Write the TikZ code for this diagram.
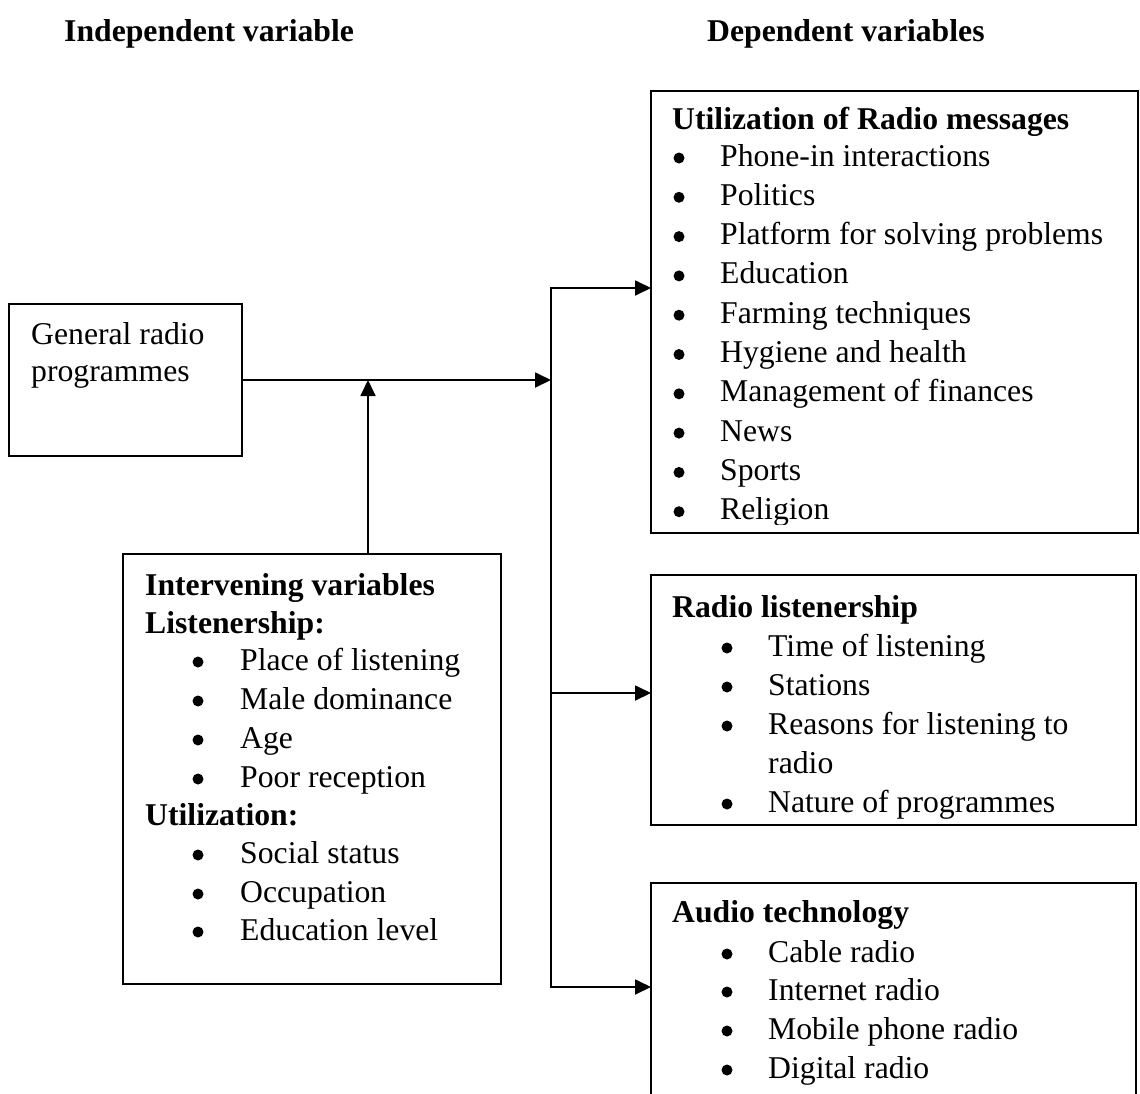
\documentclass[tikz,border=0pt]{standalone}
\usepackage{fontspec}
\setmainfont{Liberation Serif}
\usetikzlibrary{arrows.meta}
\begin{document}
\begin{tikzpicture}[x=1pt,y=-1pt,
  box/.style={draw, line width=1.5pt, anchor=north west, inner sep=0pt, outer sep=0pt},
  txt/.style={anchor=base west, inner sep=0pt, font=\fontsize{31.7}{38}\selectfont},
  btxt/.style={anchor=base west, inner sep=0pt, font=\fontsize{31.7}{38}\selectfont\bfseries},
  conn/.style={line width=1.8pt},
  arr/.style={conn, -{Triangle[length=16pt,width=15pt]}}
]
\clip (0,0) rectangle (1140,1093);
\fill[white] (0,0) rectangle (1140,1093);

% headers
\node[btxt] (hind) at (64,41) {Independent variable};
\node[btxt] (hdep) at (707,41) {Dependent variables};

% boxes
\node[box, minimum width=233pt, minimum height=152pt] (gen) at (9,304) {};
\node[box, minimum width=487pt, minimum height=442pt] (util) at (651,91) {};
\node[box, minimum width=485pt, minimum height=250pt] (listen) at (651,575) {};
\node[box, minimum width=485pt, minimum height=260pt] (audio) at (651,883) {};
\node[box, minimum width=378pt, minimum height=430pt] (interv) at (123,554) {};

% general radio text
\node[txt] (g1) at (31,344) {General radio};
\node[txt] (g2) at (31,381) {programmes};

% utilization box
\node[btxt] (ut) at (672,129) {Utilization of Radio messages};
\begin{scope}
\clip (651,91) rectangle (1138,524);
\foreach \t [count=\i] in {Phone-in interactions, Politics, Platform for solving problems, Education, Farming techniques, Hygiene and health, Management of finances, News, Sports, Religion}{
  \node[txt] (u\i) at (720,{166+39.3*(\i-1)}) {\t};
  \fill (679,{158+39.3*(\i-1)}) circle (5.5pt);
}
\end{scope}

% radio listenership box
\node[btxt] (lt) at (672,617) {Radio listenership};
\node[txt] (l1) at (768,656) {Time of listening};
\node[txt] (l2) at (768,695) {Stations};
\node[txt] (l3) at (768,734) {Reasons for listening to};
\node[txt] (l3b) at (768,773) {radio};
\node[txt] (l4) at (768,812) {Nature of programmes};
\foreach \y in {656,695,734,812}{ \fill (727,\y-8) circle (5.5pt); }

% audio technology box
\node[btxt] (at) at (672,922) {Audio technology};
\node[txt] (a1) at (768,962) {Cable radio};
\node[txt] (a2) at (768,1000) {Internet radio};
\node[txt] (a3) at (768,1039) {Mobile phone radio};
\node[txt] (a4) at (768,1078) {Digital radio};
\foreach \y in {962,1000,1039,1078}{ \fill (727,\y-8) circle (5.5pt); }

% intervening box
\node[btxt] (it) at (145,595) {Intervening variables};
\node[btxt] (il) at (145,633) {Listenership:};
\node[txt] (i1) at (240,670) {Place of listening};
\node[txt] (i2) at (240,709) {Male dominance};
\node[txt] (i3) at (240,748) {Age};
\node[txt] (i4) at (240,787) {Poor reception};
\node[btxt] (iu) at (145,825) {Utilization:};
\node[txt] (i5) at (240,863) {Social status};
\node[txt] (i6) at (240,902) {Occupation};
\node[txt] (i7) at (240,940) {Education level};
\foreach \y in {670,709,748,787,863,902,940}{ \fill (198,\y-8) circle (5.5pt); }

% connectors
\coordinate (j0) at (551,380);
\coordinate (up) at (368,380);
\coordinate (t) at (551,288);
\coordinate (m) at (551,693);
\coordinate (b) at (551,987);

\draw[arr] (gen.east |- j0) -- (j0);
\draw[arr] (interv.north -| up) -- (up);
\draw[conn, line cap=rect] (t) -- (b);
\draw[arr] (t) -- (t -| util.west);
\draw[arr] (m) -- (m -| listen.west);
\draw[arr] (b) -- (b -| audio.west);
\end{tikzpicture}
\end{document}
